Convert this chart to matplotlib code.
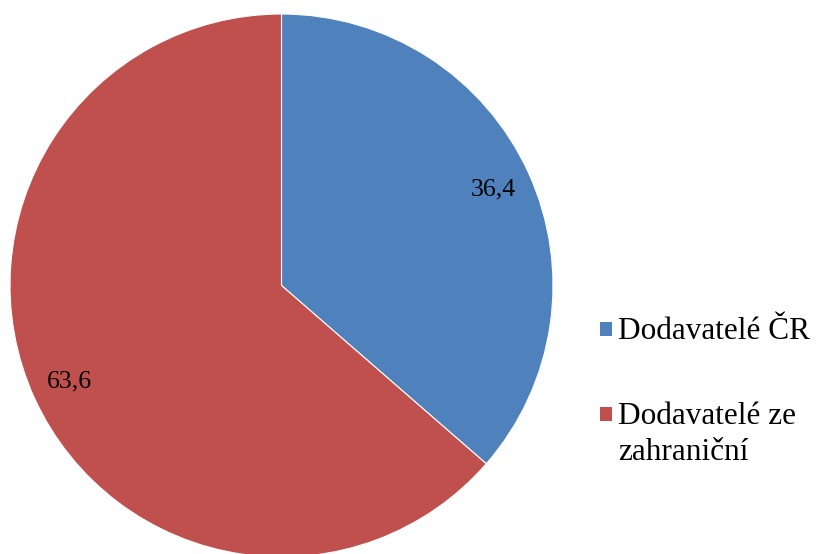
import matplotlib
matplotlib.use("Agg")
import matplotlib.pyplot as plt
from matplotlib.patches import Rectangle
import numpy as np

categories = ["Dodavatelé ČR", "Dodavatelé ze\nzahraniční"]
values = [36.4, 63.6]
value_labels = ["36,4", "63,6"]
colors = ["#4F81BD", "#C0504D"]

W, H = 817, 554
fig = plt.figure(figsize=(W / 100, H / 100), dpi=100)
cx, cy, r = 281.5, 285.5, 271.5
ax = fig.add_axes([(cx - r) / W, (H - cy - r) / H, 2 * r / W, 2 * r / H])

wedges, _ = ax.pie(values, colors=colors, startangle=90, counterclock=False,
                   radius=1, wedgeprops=dict(edgecolor="white", linewidth=0.8),
                   frame=False)
ax.set_xlim(-1, 1)
ax.set_ylim(-1, 1)
ax.set_aspect("auto")
ax.axis("off")

ang = 90.0
for v, lab in zip(values, value_labels):
    span = v / sum(values) * 360
    mid = np.deg2rad(ang - span / 2)
    ang -= span
    ax.text(0.857 * np.cos(mid), 0.857 * np.sin(mid), lab, ha="center", va="center",
            fontsize=18.5, family="Liberation Serif", color="black")

# legend (pixel positions, top-left origin)
def fx(x):
    return x / W

def fy(y):
    return 1 - y / H

entry_baselines = [339, 424]
line_step = 36
for cat, col, base in zip(categories, colors, entry_baselines):
    fig.add_artist(Rectangle((fx(600), fy(base - 3)), 12 / W, 14 / H,
                             transform=fig.transFigure, facecolor=col, edgecolor="none"))
    for k, line in enumerate(cat.split("\n")):
        fig.text(fx(618), fy(base + k * line_step), line, ha="left", va="baseline",
                 fontsize=22.5, family="Liberation Serif", color="black")

fig.savefig("out.png", dpi=100)
